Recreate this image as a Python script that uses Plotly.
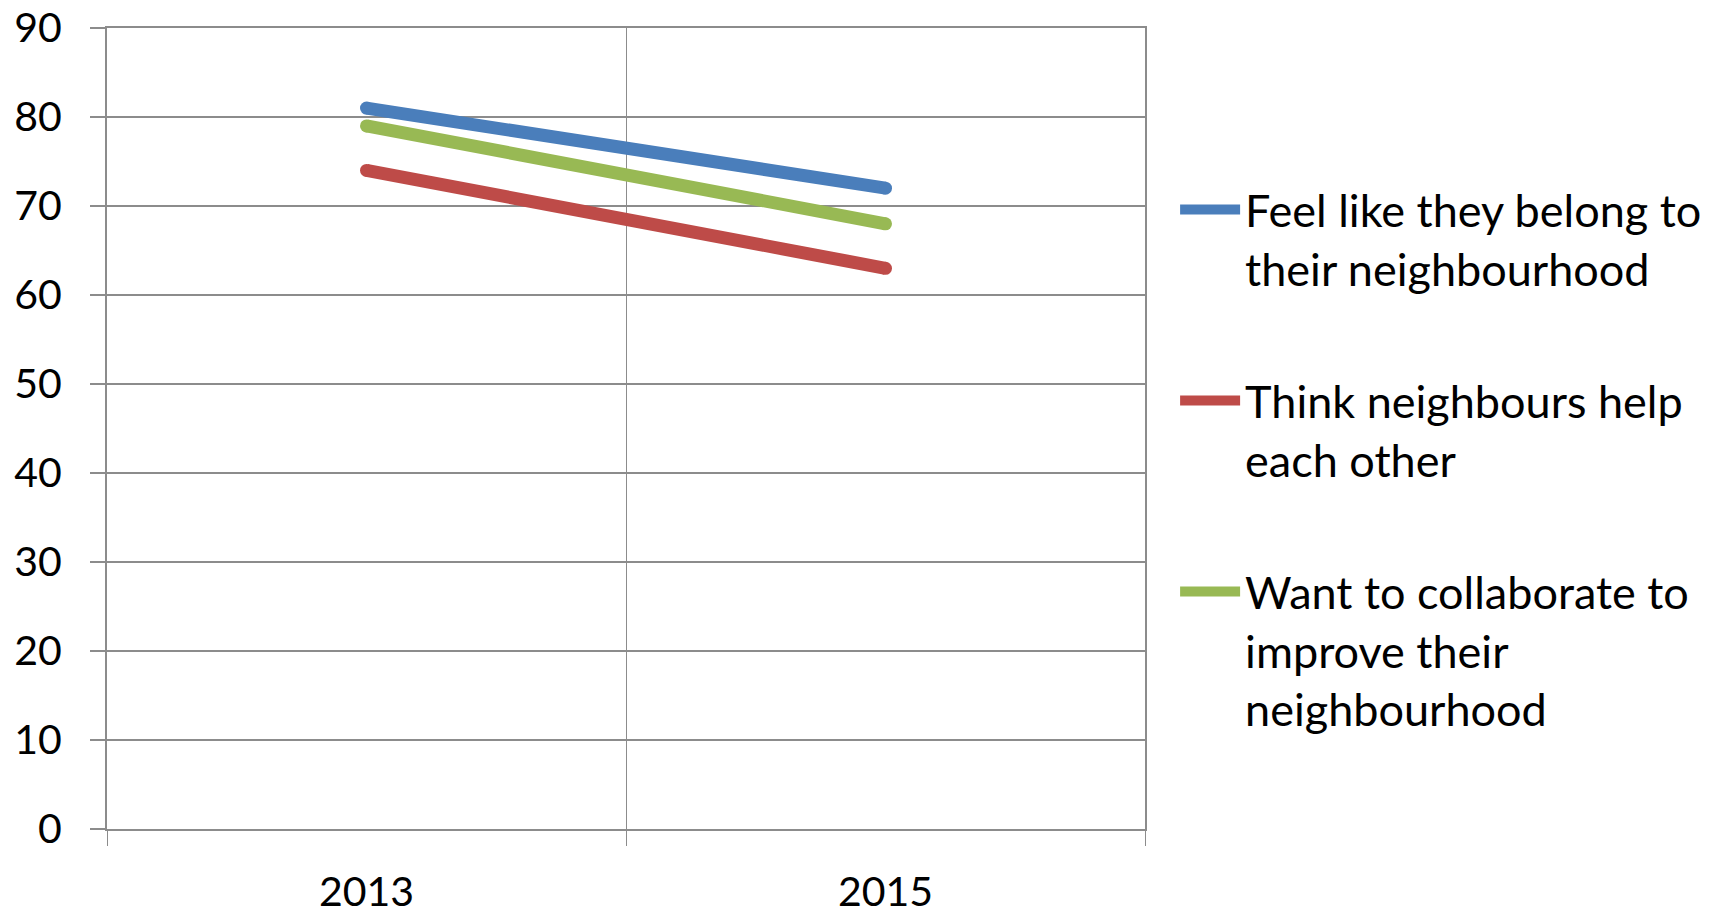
import plotly.graph_objects as go

years = ["2013", "2015"]
series_names = [
    "Feel like they belong to<br>their neighbourhood",
    "Think neighbours help<br>each other",
    "Want to collaborate to<br>improve their<br>neighbourhood",
]
belong = [81, 72]
help_each = [74, 63]
collaborate = [79, 68]
colors = ["#4a7ebb", "#be4b48", "#98b954"]
y_ticks = [0, 10, 20, 30, 40, 50, 60, 70, 80, 90]

FONT = "Lato, 'Open Sans', sans-serif"
GRID = "#8c8c8c"

fig = go.Figure()
for i, (name, vals) in enumerate(zip(series_names, [belong, help_each, collaborate])):
    fig.add_trace(go.Scatter(
        x=years, y=vals, mode="lines", name=name,
        line=dict(color=colors[i], width=13),
        legendgroup=f"g{i}",
    ))
    fig.add_trace(go.Scatter(
        x=years, y=vals, mode="markers", showlegend=False,
        marker=dict(color=colors[i], size=13, line=dict(width=0)),
        legendgroup=f"g{i}", hoverinfo="skip",
    ))

fig.update_layout(
    width=1708, height=902,
    margin=dict(l=99, r=571, t=20, b=81, autoexpand=False),
    paper_bgcolor="white", plot_bgcolor="white",
    font=dict(family=FONT, size=41, color="#000000"),
    legend=dict(
        x=1.029, xanchor="left", y=0.818, yanchor="top",
        itemwidth=60, valign="top", tracegroupgap=71,
        font=dict(family=FONT, size=45, color="#000000"),
        bgcolor="rgba(0,0,0,0)",
    ),
    showlegend=True,
)
fig.update_xaxes(
    type="category", range=[-0.5, 1.5], tickson="boundaries",
    ticks="outside", ticklen=15, tickcolor=GRID, tickwidth=1,
    showgrid=True, gridcolor=GRID, gridwidth=1,
    showline=True, linecolor=GRID, linewidth=2, mirror=True,
    ticklabelstandoff=26, automargin=False, ticklabeloverflow="allow",
    tickfont=dict(family=FONT, size=41),
)
fig.update_yaxes(
    range=[0, 90], tickvals=y_ticks,
    ticks="outside", ticklen=15, tickcolor=GRID, tickwidth=2,
    showgrid=True, gridcolor=GRID, gridwidth=2, zeroline=False,
    showline=True, linecolor=GRID, linewidth=2, mirror=True,
    ticklabelstandoff=20, automargin=False, ticklabeloverflow="allow",
    tickfont=dict(family=FONT, size=41),
)

fig.write_html("out.html")
